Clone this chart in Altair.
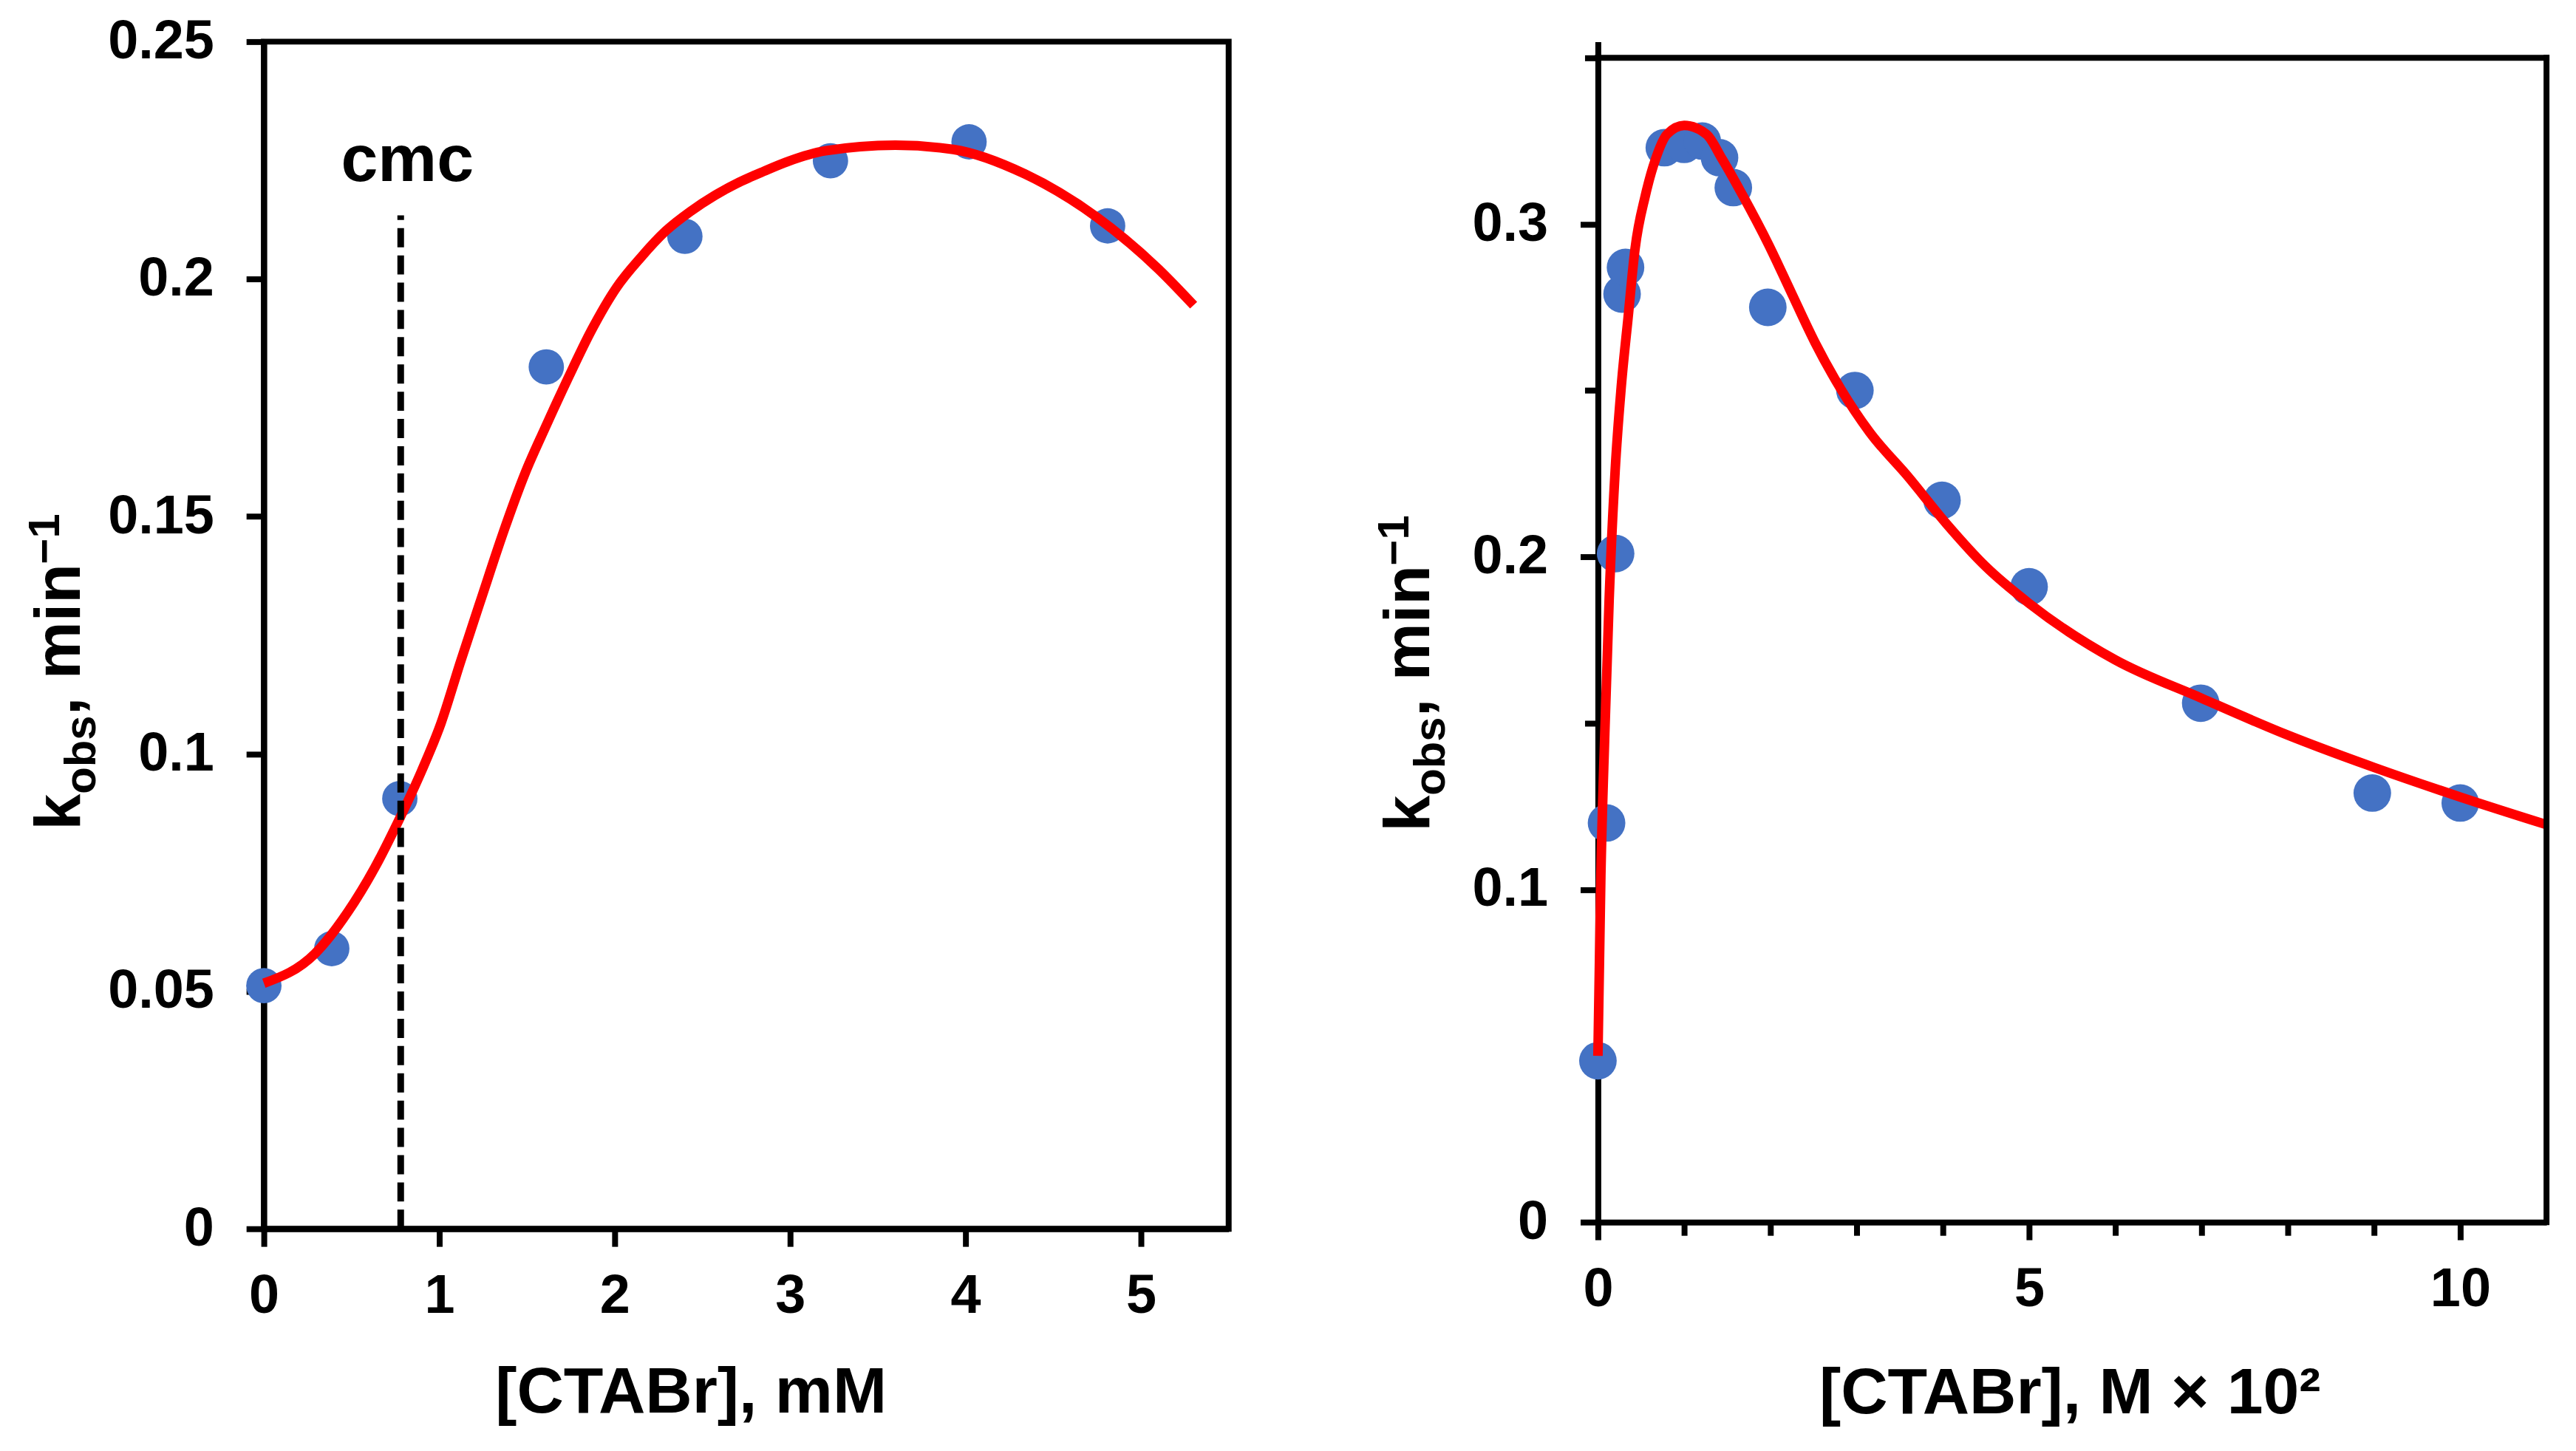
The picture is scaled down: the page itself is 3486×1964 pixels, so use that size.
import altair as alt
import pandas as pd

FONT = "Liberation Sans"
BLUE = "#4472C4"
RED = "#FF0000"

# left panel: kobs vs [CTABr] (mM)
left_x = [0, 0.387, 0.775, 1.61, 2.40, 3.23, 4.02, 4.81]
left_y = [0.0512, 0.0590, 0.0906, 0.1815, 0.2090, 0.2249, 0.2289, 0.2112]

left_fit_x = [0, 0.29, 0.48, 0.63, 0.77, 0.90, 1.01, 1.12, 1.24, 1.37, 1.49, 1.60, 1.73,
              1.87, 2.01, 2.15, 2.29, 2.43, 2.57, 2.71, 2.85, 2.99, 3.2, 3.6, 3.93, 4.34,
              4.75, 5.1, 5.3]
left_fit_y = [0.0517, 0.0579, 0.0668, 0.0759, 0.0861, 0.0965, 0.1065, 0.1193, 0.1328,
              0.1472, 0.1592, 0.1684, 0.1788, 0.1894, 0.1982, 0.2046, 0.2101, 0.2142,
              0.2176, 0.2204, 0.2227, 0.2248, 0.2270, 0.2282, 0.2273, 0.2221, 0.2130,
              0.2021, 0.1945]

cmc = 0.78
cmc_top = 0.2134

# right panel: kobs vs [CTABr] (M x 10^2)
right_x = [0, 0.10, 0.205, 0.28, 0.32, 0.77, 1.0, 1.21, 1.41, 1.57, 1.97, 2.98, 3.99,
           5.0, 6.99, 8.98, 10.0]
right_y = [0.0485, 0.120, 0.201, 0.279, 0.287, 0.323, 0.324, 0.325, 0.320, 0.311,
           0.275, 0.250, 0.217, 0.191, 0.156, 0.129, 0.126]

right_fit_x = [0, 0.034, 0.08, 0.13, 0.2, 0.27, 0.35, 0.43, 0.55, 0.67, 0.8, 1.0, 1.26,
               1.44, 1.68, 1.98, 2.25, 2.52, 2.82, 3.15, 3.6, 4.04, 4.5, 5.0, 6.0, 7.0,
               8.0, 9.0, 10.0, 11.0]
right_fit_y = [0.050, 0.104, 0.147, 0.187, 0.226, 0.251, 0.272, 0.2925, 0.3086, 0.3197,
               0.3270, 0.3297, 0.3270, 0.3196, 0.3086, 0.2938, 0.2790, 0.2643, 0.2503,
               0.2375, 0.2240, 0.2100, 0.1970, 0.1860, 0.1690, 0.1575, 0.1464, 0.1367,
               0.1278, 0.1195]

left_ticks_x = [0, 1, 2, 3, 4, 5]
left_ticks_y = [0, 0.05, 0.1, 0.15, 0.2, 0.25]
right_ticks_x = [0, 5, 10]
right_minor_x = [1, 2, 3, 4, 6, 7, 8, 9]
right_ticks_y = [0, 0.1, 0.2, 0.3]
right_minor_y = [0.05, 0.15, 0.25, 0.35]


def main_axis(values, fmt, title, **extra):
    return alt.Axis(values=values, format=fmt, title=title, grid=False,
                    tickSize=24, tickWidth=8, tickColor="black",
                    domainWidth=8, domainColor="black",
                    labelFont=FONT, labelFontSize=74, labelFontWeight="bold",
                    labelColor="black", labelFlush=False, labelOverlap=False,
                    titleFont=FONT, titleFontSize=88, titleFontWeight="bold",
                    titleColor="black", **extra)


def minor_axis(values, orient):
    return alt.Axis(values=values, orient=orient, labels=False, domain=False, grid=False,
                    tickSize=18, tickWidth=8, tickColor="black", title="")


def y_title(base_x, start_y):
    # k_obs, min^-1 built from pieces (rotated, reading upwards)
    pieces = [("k", 88, 0, 0), ("obs", 60, 21, 49), (", min", 88, 0, 156), ("−1", 60, -28, 361)]
    layers = []
    for txt, fs, shift, along in pieces:
        layers.append(
            alt.Chart(pd.DataFrame({"t": [txt]})).mark_text(
                angle=270, align="left", baseline="alphabetic", font=FONT,
                fontWeight="bold", fontSize=fs, color="black"
            ).encode(x=alt.value(base_x + shift), y=alt.value(start_y - along), text="t:N")
        )
    return layers


# ---- left chart
lx = alt.Scale(domain=[0, 5.5], nice=False)
ly = alt.Scale(domain=[0, 0.25], nice=False)

left_points = alt.Chart(pd.DataFrame({"x": left_x, "y": left_y})).mark_circle(
    size=2300, color=BLUE, opacity=1
).encode(
    x=alt.X("x:Q", scale=lx, axis=main_axis(left_ticks_x, "d", "[CTABr], mM",
                                            labelPadding=90, labelBaseline="alphabetic",
                                            titleX=579, titleY=249, titleBaseline="alphabetic")),
    y=alt.Y("y:Q", scale=ly, axis=main_axis(left_ticks_y, ".2~f", "", labelPadding=44)),
)

left_curve = alt.Chart(pd.DataFrame({"x": left_fit_x, "y": left_fit_y})).mark_line(
    color=RED, strokeWidth=13, interpolate="monotone"
).encode(x=alt.X("x:Q", scale=lx), y=alt.Y("y:Q", scale=ly))

cmc_line = alt.Chart(pd.DataFrame({"t": ["cmc"]})).mark_rule(
    color="black", strokeWidth=9, strokeDash=[26, 11]
).encode(x=alt.datum(cmc), y=alt.datum(0), y2=alt.datum(cmc_top))

cmc_text = alt.Chart(pd.DataFrame({"t": ["cmc"]})).mark_text(
    font=FONT, fontWeight="bold", fontSize=90, color="black", align="center",
    baseline="alphabetic", dx=9, dy=-47
).encode(x=alt.datum(cmc), y=alt.datum(cmc_top), text="t:N")

left = alt.layer(
    left_points, left_curve, cmc_line, cmc_text, *y_title(-250, 1070)
).properties(width=1309, height=1611,
             view=alt.ViewBackground(stroke="black", strokeWidth=8))

# ---- right chart
rx = alt.Scale(domain=[0, 11], nice=False)
ry = alt.Scale(domain=[0, 0.354873], nice=False)

right_pts = pd.DataFrame({"x": right_x, "y": right_y})

right_points = alt.Chart(right_pts).mark_circle(size=2600, color=BLUE, opacity=1).encode(
    x=alt.X("x:Q", scale=rx, axis=main_axis(right_ticks_x, "d", "[CTABr], M × 10²",
                                            labelPadding=90, labelBaseline="alphabetic",
                                            titleX=640, titleY=259, titleBaseline="alphabetic")),
    y=alt.Y("y:Q", scale=ry, axis=main_axis(right_ticks_y, ".1~f", "", labelPadding=44)),
)

right_curve = alt.Chart(pd.DataFrame({"x": right_fit_x, "y": right_fit_y})).mark_line(
    color=RED, strokeWidth=13, interpolate="monotone"
).encode(x=alt.X("x:Q", scale=rx), y=alt.Y("y:Q", scale=ry))

frame_top = alt.Chart(pd.DataFrame({"t": ["top"]})).mark_rule(
    color="black", strokeWidth=8, strokeCap="square"
).encode(x=alt.datum(0), x2=alt.datum(11), y=alt.datum(0.35))

frame_right = alt.Chart(pd.DataFrame({"t": ["right"]})).mark_rule(
    color="black", strokeWidth=8, strokeCap="square"
).encode(x=alt.datum(11), y=alt.datum(0), y2=alt.datum(0.35))

right_main = alt.layer(right_points, right_curve, frame_top, frame_right, *y_title(-229, 1072))

right_minor = alt.Chart(right_pts).mark_point(opacity=0).encode(
    x=alt.X("x:Q", scale=rx, axis=minor_axis(right_minor_x, "bottom")),
    y=alt.Y("y:Q", scale=ry, axis=minor_axis(right_minor_y, "left")),
)

right = alt.layer(right_main, right_minor).resolve_scale(
    x="independent", y="independent"
).properties(width=1287, height=1602)

chart = alt.hconcat(left, right, spacing=501, bounds="flush").properties(
    padding={"left": 20, "top": 5, "right": 5, "bottom": 5},
    background="white",
).configure_view(stroke="transparent")

chart.save("out.html", embed_options={"renderer": "svg", "actions": False})
